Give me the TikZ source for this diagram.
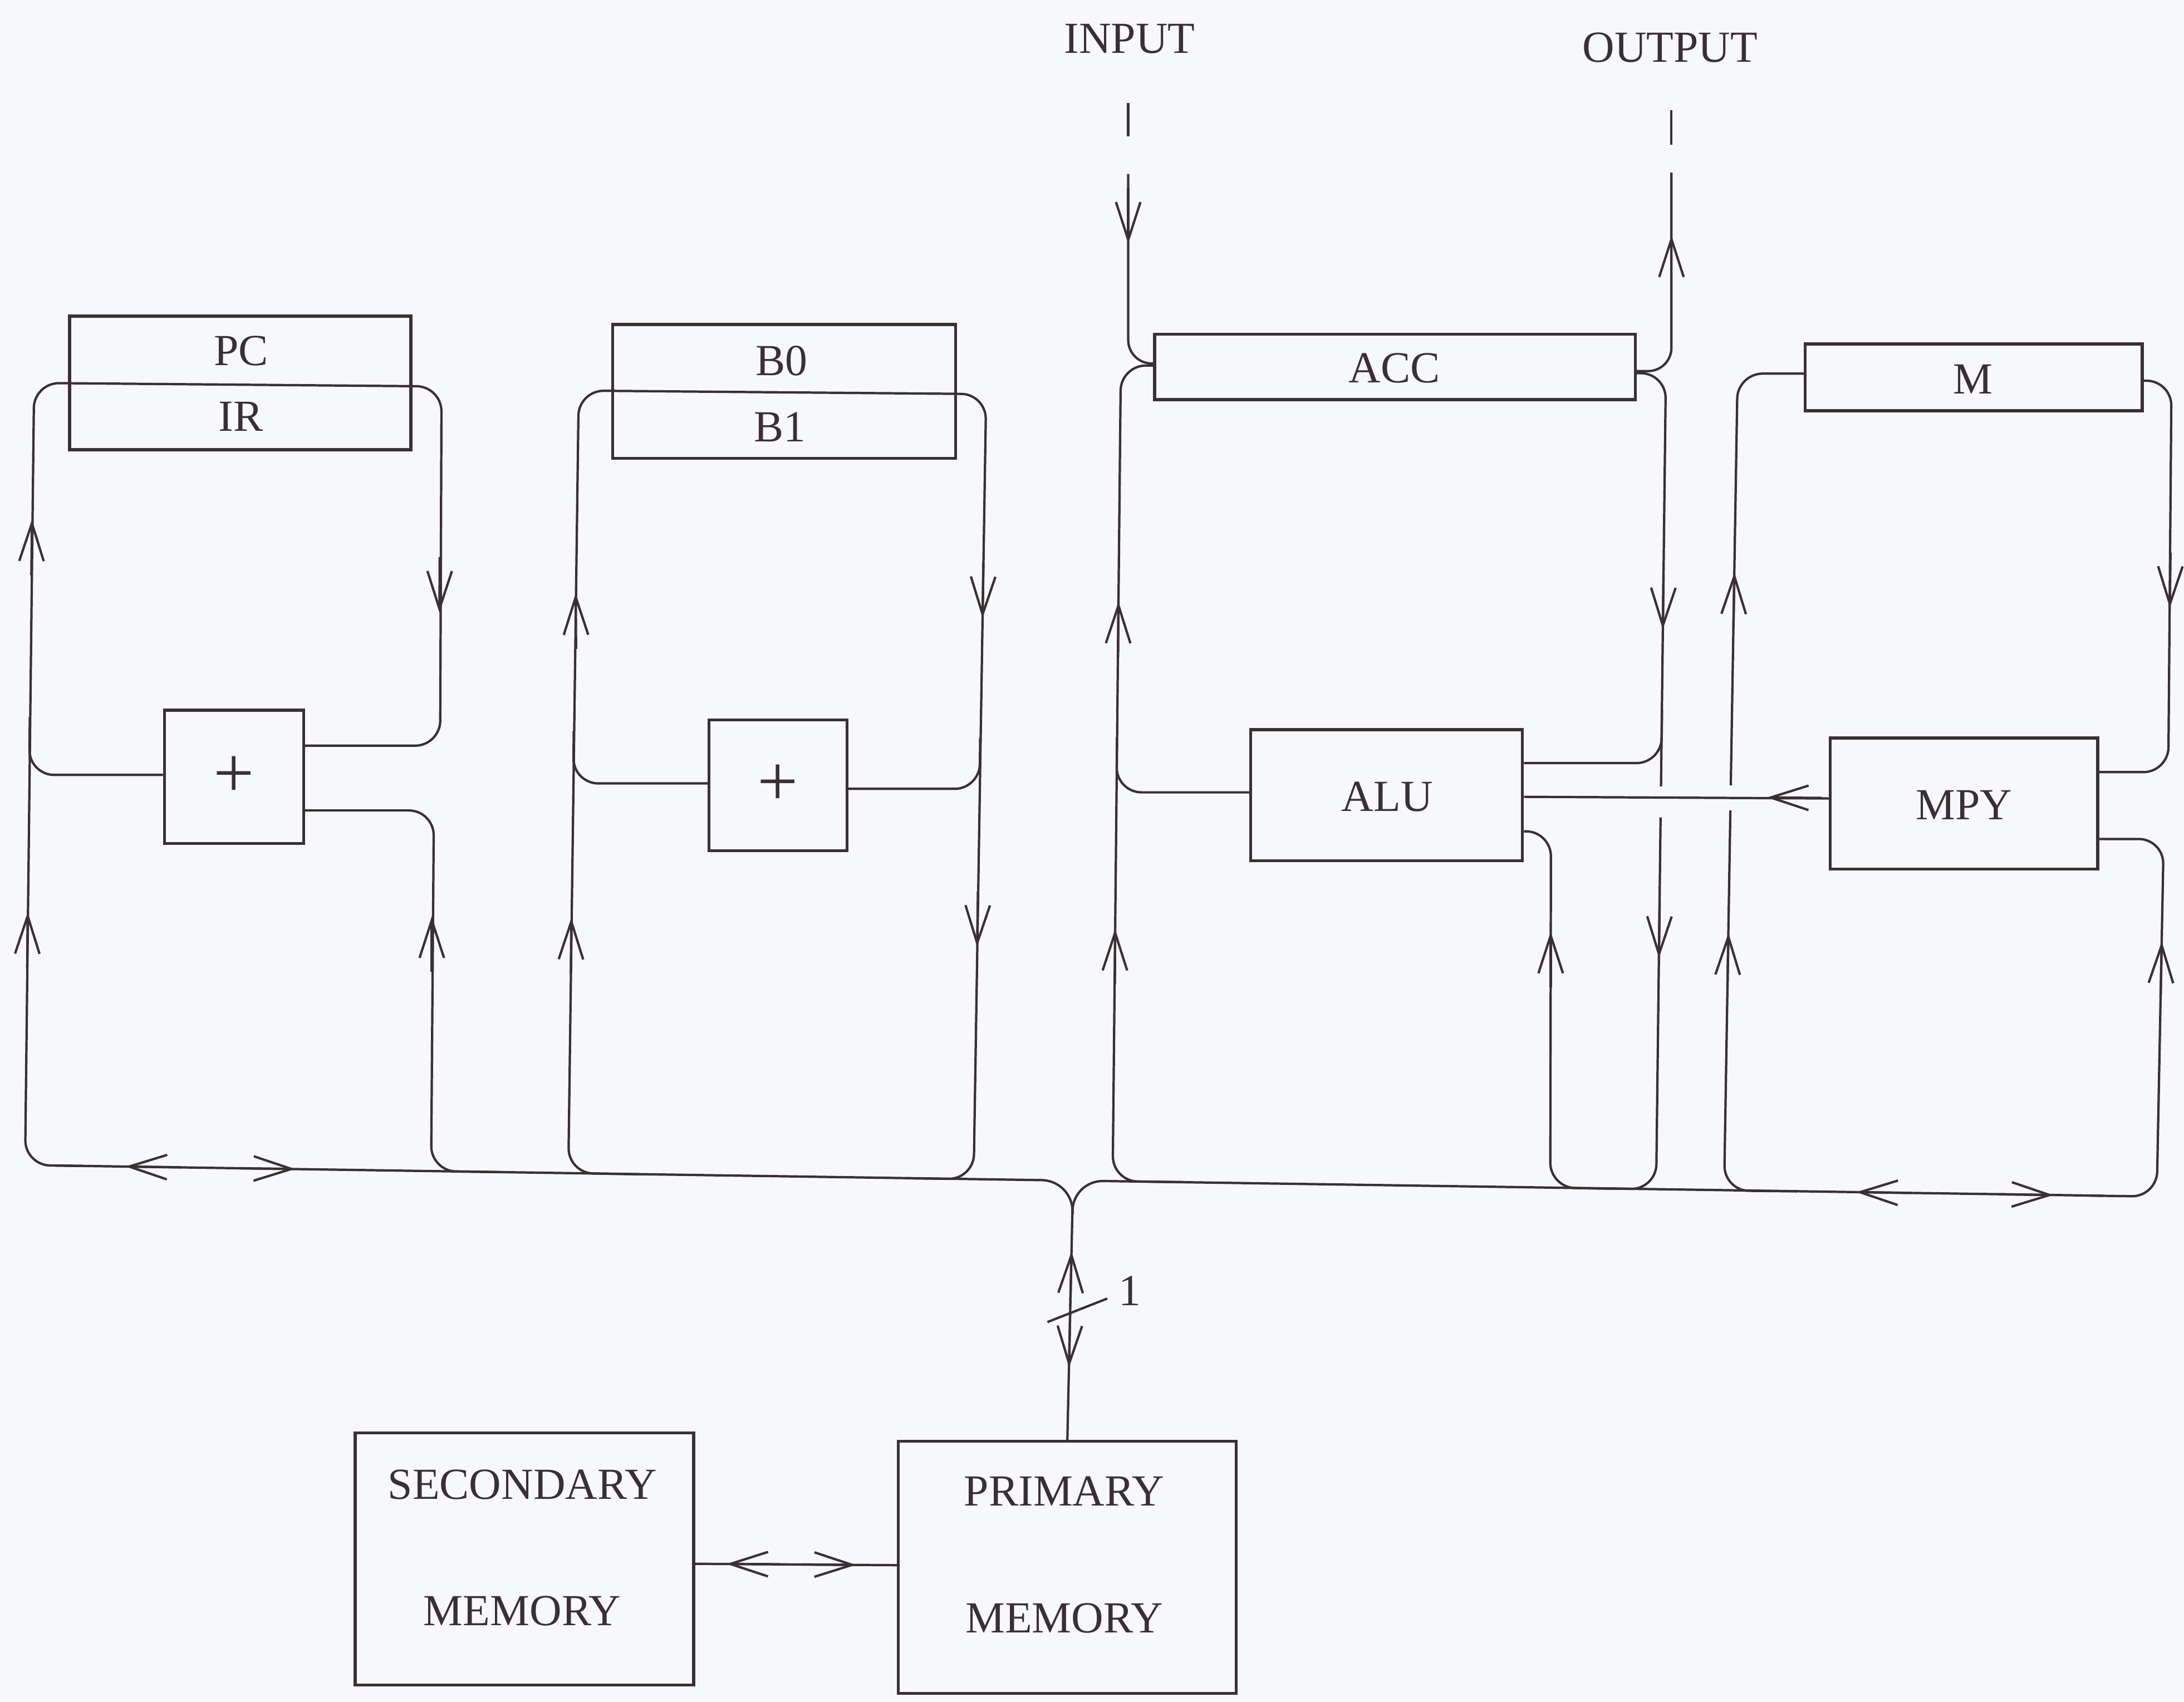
\documentclass[tikz,border=0pt]{standalone}
\usepackage{fontspec}
\setmainfont{Liberation Serif}
\usetikzlibrary{arrows.meta,fit}
\definecolor{inkc}{RGB}{58,48,52}
\definecolor{paper}{RGB}{247,248,251}
\tikzset{
  ink/.style={draw=inkc, line width=1.2pt},
  wire/.style={ink, rounded corners=0.45cm},
  barb/.style={ink, -{Straight Barb[length=0.68cm,width=0.44cm]}},
  blk/.style={draw=inkc, line width=1.5pt, inner sep=0pt},
  plusf/.style={font=\fontsize{37}{40}\selectfont}
}
\begin{document}
\begin{tikzpicture}[x=0.02502cm, y=-0.02502cm, font=\fontsize{22.7}{27}\selectfont, text=inkc]
\fill[paper] (0,0) rectangle (1568,1222);
\useasboundingbox (0,0) rectangle (1568,1222);

% ---------- boxes ----------
\node[blk, fit={(50,227) (295,323)}] (pcir) {};
\node (pc) at (173,252) {PC};
\node (ir) at (173,299) {IR};
\node[blk, fit={(118,510) (218,605.6)}] (plus1) {};
\node[plusf] (plus1t) at (plus1.center) {+};

\node[blk, fit={(440,233) (686,329)}] (bb) {};
\node (b0) at (561,259) {B0};
\node (b1) at (560,306.5) {B1};
\node[blk, fit={(509,517) (608,611)}] (plus2) {};
\node[plusf] (plus2t) at (plus2.center) {+};

\node[blk, fit={(829,240) (1174,287)}] (acc) {};
\node (acct) at (1001,264.5) {ACC};
\node[blk, fit={(898,524) (1093,618)}] (alu) {};
\node (alut) at (996,572) {ALU};
\node[blk, fit={(1296,247) (1538,295)}] (m) {};
\node (mt) at (1416.5,272.5) {M};
\node[blk, fit={(1314,530) (1506,624)}] (mpy) {};
\node (mpyt) at (1410,578) {MPY};

\node[blk, fit={(255,1029) (498,1210)}] (sec) {};
\node (sec1) at (375,1066) {SECONDARY};
\node (sec2) at (375,1157) {MEMORY};
\node[blk, fit={(645,1035) (887.6,1216)}] (prim) {};
\node (pri1) at (764,1071) {PRIMARY};
\node (pri2) at (764,1162) {MEMORY};

\node (inp) at (811,28) {INPUT};
\node (outp) at (1199,34) {OUTPUT};
\node (one) at (811,927) {1};

% ---------- PC / IR loop ----------
\draw[wire] (plus1.east |- 0,535.5) -- (316,535.5) -- (317,277.5) -- (24.5,275) -- (18,836.7) -- (60,837.3);
\draw[wire] (plus1.west |- 0,556.5) -- (21,556.5) -- (21.4,515);
\draw[wire] (plus1.east |- 0,582) -- (311.5,582) -- (309.5,841) -- (360,841.7);
\draw[barb] (22.5,413) -- (22.95,373);
\draw[barb] (19.5,695) -- (19.9,655);
\draw[barb] (310,698) -- (310,658);
\draw[barb] (315.7,400) -- (315.5,440);

% left bus
\draw[wire, rounded corners=0.55cm] (40,837) -- (770,847.8) -- (770,872);
\draw[barb] (130,838.3) -- (90,837.7);
\draw[barb] (172,839) -- (212,839.5);

% ---------- B0 / B1 loop ----------
\draw[wire] (460,843.3) -- (408,842.4) -- (415.5,280.5) -- (708,283) -- (699,846.8) -- (650,846.1);
\draw[wire] (plus2.west |- 0,562.6) -- (411.6,562.6) -- (411.9,525);
\draw[wire] (plus2.east |- 0,566.5) -- (703.3,566.5) -- (703.7,530);
\draw[barb] (413.6,466) -- (413.3,426);
\draw[barb] (409.8,699) -- (410.2,659);
\draw[barb] (706,404) -- (705.4,444);
\draw[barb] (702.1,640) -- (701.5,680);

% ---------- ACC / ALU ----------
\draw[ink] (810,74) -- (810,98);
\draw[wire, rounded corners=0.42cm] (810,125) -- (810,261) -- (acc.west |- 0,261);
\draw[barb] (810,135) -- (810,175);
\draw[wire] (acc.west |- 0,262.5) -- (804.7,262.5) -- (798.8,848.2) -- (850,848.9);
\draw[wire] (alu.west |- 0,569) -- (801.6,569) -- (801.9,530);
\draw[barb] (802.7,472) -- (803,432);
\draw[barb] (800.4,707) -- (800.6,667);

\draw[ink] (1200,79) -- (1200,104);
\draw[wire, rounded corners=0.42cm] (acc.east |- 0,266.5) -- (1200,266.5) -- (1200,124);
\draw[barb] (1200,209) -- (1200,169);
\draw[wire] (acc.east |- 0,268) -- (1196,268) -- (1192.5,564.7);
\draw[wire] (1192.2,587) -- (1189,854) -- (1140,853.3);
\draw[wire] (alu.east |- 0,548) -- (1192.8,548) -- (1193.2,510);
\draw[wire] (alu.east |- 0,597) -- (1113.5,597) -- (1113,852.9) -- (1160,853.6);
\draw[barb] (1194.3,412) -- (1193.8,452);
\draw[barb] (1191.5,648) -- (1191,688);
\draw[barb] (1113.3,709) -- (1113.3,669);

% MPY -> ALU
\draw[ink] (mpy.west |- 0,573.4) -- (alu.east |- 0,572.2);
\draw[barb] (1308,573) -- (1268.5,572.7);

% ---------- M / MPY loop ----------
\draw[wire] (m.west |- 0,268.3) -- (1247.5,268.3) -- (1242.6,564);
\draw[wire] (1242.3,582) -- (1237.8,855) -- (1290,855.5);
\draw[barb] (1244.5,451) -- (1245.2,411);
\draw[barb] (1240.2,710) -- (1240.9,670);
\draw[wire] (m.east |- 0,273.4) -- (1559,273.4) -- (1556.7,554.5) -- (mpy.east |- 0,554.5);
\draw[barb] (1558.3,397) -- (1557.8,436.6);
\draw[wire] (mpy.east |- 0,602.5) -- (1553.4,602.5) -- (1548.4,859.3) -- (1500,858.6);
\draw[barb] (1551.2,716) -- (1552,676);

% right bus
\draw[wire, rounded corners=0.55cm] (770,872) -- (770,847.8) -- (1510,858.7);
\draw[barb] (1372,856.7) -- (1332.6,856.1);
\draw[barb] (1434,857.6) -- (1474.2,858.2);

% ---------- bus to primary memory ----------
\draw[ink] (770,866) -- (prim.north);
\draw[barb] (768.4,938) -- (769.3,898.6);
\draw[barb] (768.3,942) -- (767.5,982);
\draw[ink] (752,949.4) -- (795,932.5);

% ---------- secondary <-> primary ----------
\draw[ink] (sec.east |- 0,1123) -- (prim.west |- 0,1124);
\draw[barb] (560,1123.3) -- (521.5,1123.1);
\draw[barb] (576,1123.5) -- (614.6,1123.8);
\end{tikzpicture}
\end{document}
